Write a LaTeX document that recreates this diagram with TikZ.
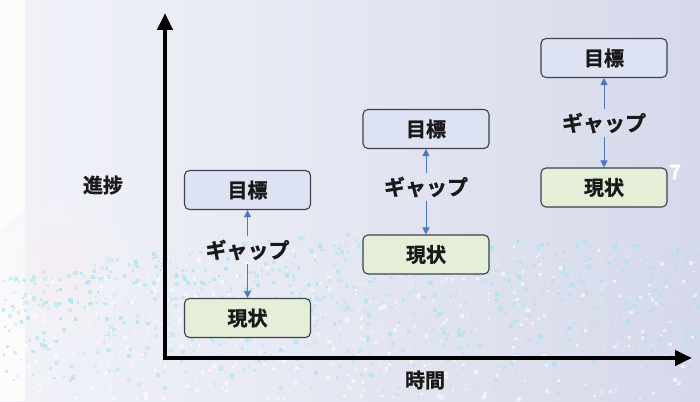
\documentclass[tikz,border=0pt]{standalone}
\usepackage{fontspec}
\newfontfamily\jp{Noto Sans CJK JP Bold}[FakeBold=1.3]
\usetikzlibrary{arrows.meta,shadings}
\definecolor{bgA}{HTML}{F2F3F9}
\definecolor{bgB}{HTML}{D6D9EA}
\definecolor{goalfill}{HTML}{DEE3F3}
\definecolor{nowfill}{HTML}{E5EED6}
\definecolor{boxline}{HTML}{3C414C}
\definecolor{gapblue}{HTML}{4A76C2}
\definecolor{dotc}{HTML}{A8E4EE}
\tikzset{
  box/.style={draw=boxline, line width=1.1pt, rounded corners=5pt, minimum width=126pt, minimum height=39pt, font=\jp\fontsize{20}{20}\selectfont, text=black!90},
  goalbox/.style={box, fill=goalfill},
  nowbox/.style={box, fill=nowfill},
  gaplabel/.style={font=\jp\fontsize{21}{21}\selectfont, text=black!90, inner sep=4pt},
  gaparrow/.style={draw=gapblue, line width=0.8pt, -{Triangle[length=7pt,width=7pt]}},
  axis/.style={line width=4.5pt, -{Triangle[length=17pt,width=15pt]}},
  axlabel/.style={font=\jp\fontsize{20}{20}\selectfont, text=black!90}
}
\begin{document}
\begin{tikzpicture}[x=1pt,y=1pt]
\useasboundingbox (0,0) rectangle (700,401);
% background
\shade[left color=bgA, right color=bgB] (0,0) rectangle (700,401);
\fill[white, opacity=0.8] (0,0) rectangle (25,401);
\shade[inner color=red!8, outer color=bgA, opacity=0.35] (60,130) circle (70);
\pgfmathsetseed{7}
\foreach \i in {1,...,900}{
  \pgfmathsetmacro\xx{700*rnd}
  \pgfmathsetmacro\tp{401-235-0.00025*(\xx-430)*(\xx-430)}
  \pgfmathsetmacro\yy{\tp*rnd^0.6}
  \pgfmathsetmacro\ss{1.5+3*rnd}
  \pgfmathsetmacro\oo{0.25+0.5*rnd}
  \fill[dotc, opacity=\oo] (\xx,\yy) rectangle ++(\ss,\ss);
}
\pgfmathsetseed{11}
\foreach \i in {1,...,350}{
  \pgfmathsetmacro\xx{700*rnd}
  \pgfmathsetmacro\tp{401-245-0.00025*(\xx-430)*(\xx-430)}
  \pgfmathsetmacro\yy{\tp*rnd}
  \pgfmathsetmacro\ss{1.5+2.5*rnd}
  \fill[white, opacity=0.6] (\xx,\yy) rectangle ++(\ss,\ss);
}
% axes
\coordinate (o) at (165,43);
\coordinate (ytop) at (165,388);
\coordinate (xend) at (692,43);
\draw[axis] ([yshift=-2.25pt]o) -- (ytop);
\draw[axis] ([xshift=-2.25pt]o) -- (xend);
\node[axlabel] (prog) at (103,216) {進捗};
\node[axlabel] (time) at (425,21) {時間};
% set 1
\node[goalbox] (t1) at (247.5,211) {目標};
\node[nowbox] (n1) at (247.5,83) {現状};
\node[gaplabel] (g1) at (247.5,151) {ギャップ};
\draw[gaparrow] (g1) -- (t1);
\draw[gaparrow] (g1) -- (n1);
% set 2
\node[goalbox] (t2) at (426,272) {目標};
\node[nowbox] (n2) at (426,146.5) {現状};
\node[gaplabel] (g2) at (426,214) {ギャップ};
\draw[gaparrow] (g2) -- (t2);
\draw[gaparrow] (g2) -- (n2);
% set 3
\node[goalbox] (t3) at (604,343) {目標};
\node[nowbox] (n3) at (604,213.5) {現状};
\node[gaplabel] (g3) at (604,278) {ギャップ};
\draw[gaparrow] (g3) -- (t3);
\draw[gaparrow] (g3) -- (n3);
% page number
\node[font=\jp\fontsize{20}{20}\selectfont, text=white] (pg) at (675,229) {7};
\end{tikzpicture}
\end{document}
